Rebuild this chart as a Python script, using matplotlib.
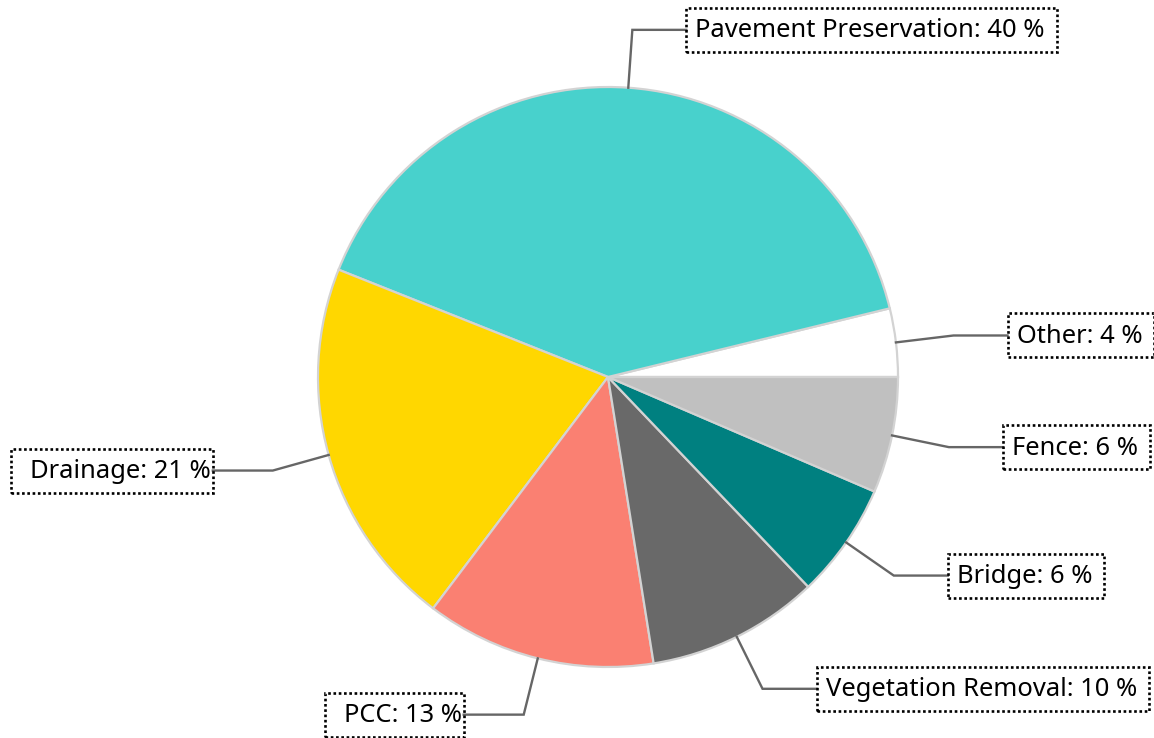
import matplotlib.pyplot as plt
import numpy as np
from matplotlib.patches import Rectangle

# Data (counter-clockwise from 3 o'clock)
categories = ['Other', 'Pavement Preservation', 'Drainage', 'PCC',
              'Vegetation Removal', 'Bridge', 'Fence']
shares = [3.8, 40.1, 20.7, 12.8, 9.6, 6.4, 6.45]
colors = ['#FFFFFF', '#48D1CC', '#FFD700', '#FA8072', '#696969', '#008080', '#C0C0C0']

W, H = 1154, 738
cx, cy, R = 608, H - 377, 290

plt.rcParams['font.family'] = ['Noto Sans', 'DejaVu Sans']

fig = plt.figure(figsize=(W / 100, H / 100), dpi=100)
ax = fig.add_axes([0, 0, 1, 1])

wedges, _ = ax.pie(shares, colors=colors, startangle=0, counterclock=True,
                   radius=R, center=(cx, cy),
                   wedgeprops=dict(edgecolor='#D3D3D3', linewidth=1.6))
ax.set_xlim(0, W)
ax.set_ylim(0, H)
ax.set_aspect('equal')
ax.axis('off')

fig.canvas.draw()
renderer = fig.canvas.get_renderer()

for w, name, v in zip(wedges, categories, shares):
    ang = np.deg2rad((w.theta1 + w.theta2) / 2)
    x0, y0 = cx + R * np.cos(ang), cy + R * np.sin(ang)
    x1, y1 = cx + 1.2 * R * np.cos(ang), cy + 1.2 * R * np.sin(ang)
    right = np.cos(ang) >= 0
    seg = 54 if right else 60
    x2 = x1 + seg if right else x1 - seg
    ax.plot([x0, x1, x2], [y0, y1, y1], color='#666666', lw=1.7,
            solid_joinstyle='miter', zorder=3)

    if right:
        pad_l, pad_r = 9, 12
        tx = x2 + pad_l
        ha = 'left'
    else:
        pad_l, pad_r = 19, 2
        tx = x2 - pad_r
        ha = 'right'
    t = ax.text(tx, y1 - 1, f"{name}: {v:.0f} %", ha=ha, va='center',
                fontsize=18.4, color='black', zorder=5)
    bb = t.get_window_extent(renderer).transformed(ax.transData.inverted())
    bx0 = bb.x0 - pad_l
    bx1 = bb.x1 + pad_r
    ax.add_patch(Rectangle((bx0, y1 - 22), bx1 - bx0, 44, fill=False,
                           edgecolor='black', linestyle=(0, (1, 1)),
                           lw=1.9, zorder=4))

fig.savefig('out.png', dpi=100)
